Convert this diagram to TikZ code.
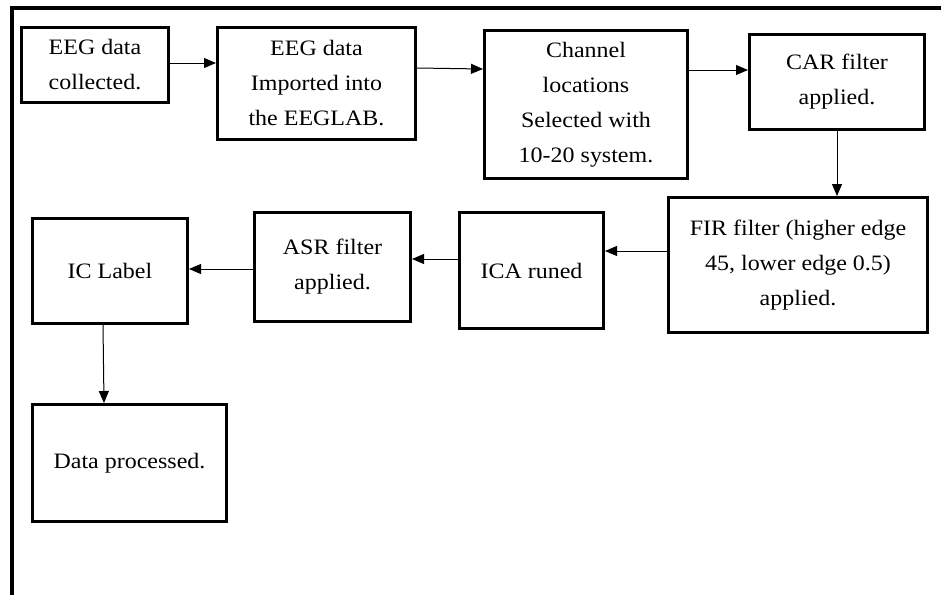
\documentclass[tikz,border=0pt]{standalone}
\usepackage{fontspec}
\setmainfont{Liberation Serif}[FakeStretch=1.09]
\usetikzlibrary{arrows.meta,calc}

\tikzset{
  blk/.style={draw,line width=1.5pt,align=center,inner sep=0pt,
    font=\fontsize{11}{17.5}\selectfont},
  arr/.style={line width=0.5pt,-{Triangle[length=6pt,width=5pt]}}
}

\begin{document}
\begin{tikzpicture}[x=0.5pt,y=-0.5pt]
\useasboundingbox (0,0) rectangle (941,595);
\draw[line width=1.75pt] (12,595) -- (12,8) -- (941,8);

\node[blk,minimum width=73.5pt,minimum height=37.5pt] (collected) at (95,65) {EEG data\\collected.};
\node[blk,minimum width=99pt,minimum height=56pt] (imported) at (316.5,83.5) {EEG data\\Imported into\\the EEGLAB.};
\node[blk,minimum width=101.5pt,minimum height=74pt] (channel) at (586,104.5) {Channel\\locations\\Selected with\\10-20 system.};
\node[blk,minimum width=87.5pt,minimum height=47.5pt] (car) at (837,82) {CAR filter\\applied.};
\node[blk,minimum width=129.5pt,minimum height=67.5pt] (fir) at (798,265) {FIR filter (higher edge\\45, lower edge 0.5)\\applied.};
\node[blk,minimum width=72pt,minimum height=58pt] (ica) at (531.5,270.5) {ICA runed};
\node[blk,minimum width=78pt,minimum height=54.5pt] (asr) at (332.5,267) {ASR filter\\applied.};
\node[blk,minimum width=77.5pt,minimum height=52.5pt] (iclabel) at (110,271) {IC Label};
\node[blk,minimum width=97pt,minimum height=58.5pt] (processed) at (129.5,463) {Data processed.};

\draw[arr] ([yshift=1pt]collected.east) -- ([yshift=10.25pt]imported.west);
\draw[arr] ([yshift=7.75pt]imported.east) -- ([yshift=17.75pt]channel.west);
\draw[arr] ([yshift=17.25pt]channel.east) -- ([yshift=6pt]car.west);
\draw[arr] (car.south) -- ([xshift=19.5pt]fir.north);
\draw[arr] ([yshift=7pt]fir.west) -- ([yshift=9.75pt]ica.east);
\draw[arr] ([yshift=5.75pt]ica.west) -- ([yshift=4pt]asr.east);
\draw[arr] ([yshift=-1pt]asr.west) -- ([yshift=1pt]iclabel.east);
\draw[arr] ([xshift=-3.5pt]iclabel.south) -- ([xshift=-12.75pt]processed.north);

\end{tikzpicture}
\end{document}
